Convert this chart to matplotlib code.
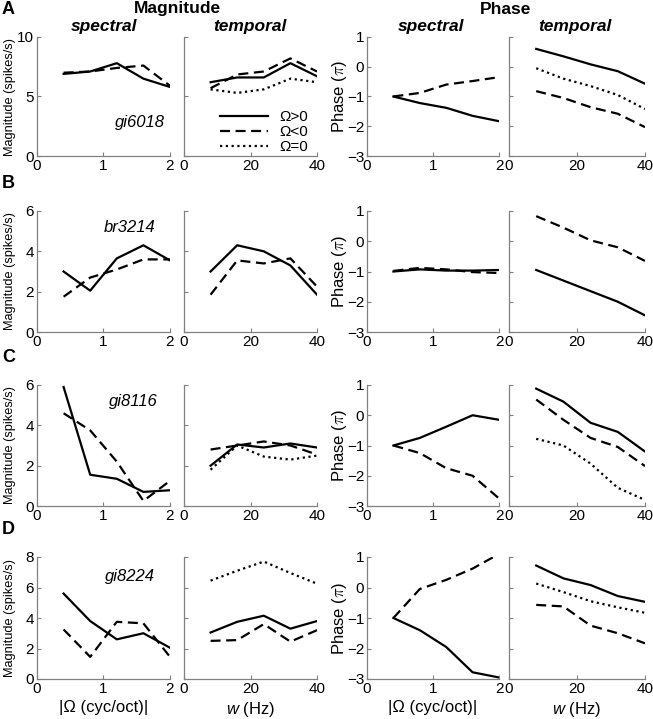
import matplotlib
matplotlib.use("Agg")
import matplotlib.pyplot as plt
import numpy as np

plt.rcParams['font.family'] = ['Liberation Sans', 'DejaVu Sans']
plt.rcParams['mathtext.fontset'] = 'custom'
plt.rcParams['mathtext.rm'] = 'Liberation Sans'
plt.rcParams['mathtext.it'] = 'Liberation Sans:italic'

W, H = 653, 719

omega = [0.4, 0.8, 1.2, 1.6, 2.0]
freq = [8, 16, 24, 32, 40]

cells = ["gi6018", "br3214", "gi8116", "gi8224"]
letters = ["A", "B", "C", "D"]

# magnitude spectral: (pos, neg)
mag_spec_pos = [[6.9, 7.1, 7.8, 6.5, 5.8],
                [3.0, 2.05, 3.65, 4.3, 3.55],
                [5.9, 1.55, 1.35, 0.7, 0.78],
                [5.6, 3.8, 2.6, 3.0, 2.05]]
mag_spec_neg = [[7.0, 7.1, 7.4, 7.6, 5.9],
                [1.75, 2.7, 3.1, 3.6, 3.6],
                [4.6, 3.75, 2.2, 0.25, 1.25],
                [3.25, 1.45, 3.75, 3.65, 1.45]]
# magnitude temporal: (pos, neg, zero)
mag_temp_pos = [[6.2, 6.6, 6.6, 7.8, 6.7],
                [3.0, 4.3, 4.0, 3.3, 1.85],
                [2.0, 3.05, 2.9, 3.1, 2.9],
                [3.05, 3.75, 4.15, 3.3, 3.8]]
mag_temp_neg = [[5.7, 6.85, 7.1, 8.2, 7.1],
                [1.85, 3.55, 3.4, 3.65, 2.25],
                [2.8, 3.0, 3.2, 3.0, 2.55],
                [2.5, 2.55, 3.6, 2.45, 3.2]]
mag_temp_zero = [[5.6, 5.3, 5.6, 6.5, 6.2],
                 None,
                 [1.8, 3.0, 2.45, 2.3, 2.5],
                 [6.45, 7.1, 7.7, 6.95, 6.25]]
# phase spectral
ph_spec_pos = [[-1.0, -1.22, -1.38, -1.65, -1.83],
               [-1.0, -0.93, -0.97, -0.97, -0.95],
               [-1.0, -0.75, -0.38, 0.0, -0.15],
               [-1.0, -1.4, -1.95, -2.78, -2.95]]
ph_spec_neg = [[-1.0, -0.88, -0.6, -0.48, -0.35],
               [-0.98, -0.88, -0.93, -1.02, -1.05],
               [-1.0, -1.25, -1.75, -2.0, -2.75],
               [-1.0, -0.05, 0.25, 0.62, 1.1]]
# phase temporal
ph_temp_pos = [[0.6, 0.35, 0.08, -0.15, -0.57],
               [-0.95, -1.3, -1.65, -2.0, -2.45],
               [0.88, 0.45, -0.25, -0.55, -1.2],
               [0.72, 0.3, 0.08, -0.28, -0.47]]
ph_temp_neg = [[-0.82, -1.05, -1.36, -1.58, -2.03],
               [0.83, 0.45, 0.03, -0.2, -0.65],
               [0.52, -0.15, -0.75, -1.05, -1.68],
               [-0.57, -0.62, -1.25, -1.5, -1.83]]
ph_temp_zero = [[-0.05, -0.4, -0.65, -0.95, -1.42],
                None,
                [-0.78, -1.0, -1.6, -2.4, -2.8],
                [0.13, -0.15, -0.45, -0.65, -0.83]]

mag_ylims = [10, 6, 6, 8]
mag_yticks = [[0, 5, 10], [0, 2, 4, 6], [0, 2, 4, 6], [0, 2, 4, 6, 8]]
cell_pos = [(1.55, 2.8), (1.4, 5.2), (1.45, 5.2), (1.4, 6.7)]

fig = plt.figure(figsize=(W / 100, H / 100), dpi=100)

col_x = [(37, 170), (184, 317), (367, 499), (509, 645)]
row_y = [(37, 156), (211, 332), (385, 506), (557, 679)]

SPINE = '#808080'
LW = 1.6
styles = {'pos': dict(color='black', lw=LW, ls='-'),
          'neg': dict(color='black', lw=LW, ls=(0, (4.5, 2.5))),
          'zero': dict(color='black', lw=LW, ls=(0, (1, 1.6)))}


def make_ax(r, c):
    x0, x1 = col_x[c]
    y0, y1 = row_y[r]
    ax = fig.add_axes([x0 / W, 1 - y1 / H, (x1 - x0) / W, (y1 - y0) / H])
    for s in ['top', 'right']:
        ax.spines[s].set_visible(False)
    for s in ['left', 'bottom']:
        ax.spines[s].set_color(SPINE)
        ax.spines[s].set_linewidth(0.9)
    ax.tick_params(direction='in', length=3, width=0.8, color=SPINE,
                   labelsize=11, pad=2, labelcolor='black')
    ax.patch.set_visible(False)
    return ax


for r in range(4):
    # magnitude spectral
    ax = make_ax(r, 0)
    ax.plot(omega, mag_spec_pos[r], **styles['pos'])
    ax.plot(omega, mag_spec_neg[r], **styles['neg'])
    ax.set_xlim(0, 2)
    ax.set_ylim(0, mag_ylims[r])
    ax.set_xticks([0, 1, 2])
    ax.set_yticks(mag_yticks[r])
    ax.set_ylabel('Magnitude (spikes/s)', fontsize=9.2)
    ax.yaxis.set_label_coords(-0.155, 0.5)
    ax.text(cell_pos[r][0], cell_pos[r][1], cells[r], style='italic',
            fontsize=12, ha='center', va='center')
    if r == 3:
        ax.set_xlabel('|Ω (cyc/oct)|', fontsize=12, labelpad=3)

    # magnitude temporal
    ax = make_ax(r, 1)
    h1, = ax.plot(freq, mag_temp_pos[r], **styles['pos'])
    h2, = ax.plot(freq, mag_temp_neg[r], **styles['neg'])
    h3 = None
    if mag_temp_zero[r] is not None:
        h3, = ax.plot(freq, mag_temp_zero[r], **styles['zero'])
    ax.set_xlim(0, 40)
    ax.set_ylim(0, mag_ylims[r])
    ax.set_xticks([0, 20, 40])
    ax.set_yticks(mag_yticks[r])
    ax.set_yticklabels([])
    if r == 0:
        ax.legend([h1, h2, h3], ['Ω>0', 'Ω<0', 'Ω=0'], frameon=False,
                  fontsize=11, loc='lower right', bbox_to_anchor=(1.0, -0.06),
                  handlelength=3.2, handletextpad=0.7, labelspacing=0.05,
                  borderaxespad=0.2)
    if r == 3:
        ax.set_xlabel('$\\mathit{w}$ (Hz)', fontsize=12, labelpad=3)

    # phase spectral
    ax = make_ax(r, 2)
    ax.plot(omega, ph_spec_pos[r], **styles['pos'])
    ax.plot(omega, ph_spec_neg[r], **styles['neg'])
    ax.set_xlim(0, 2)
    ax.set_ylim(-3, 1)
    ax.set_xticks([0, 1, 2])
    ax.set_yticks([-3, -2, -1, 0, 1])
    lab = ax.set_ylabel('Phase ($\\pi$)', fontsize=12)
    lab.set_math_fontfamily('cm')
    ax.yaxis.set_label_coords(-0.14, 0.5)
    if r == 3:
        ax.set_xlabel('|Ω (cyc/oct)|', fontsize=12, labelpad=3)

    # phase temporal
    ax = make_ax(r, 3)
    ax.plot(freq, ph_temp_pos[r], **styles['pos'])
    ax.plot(freq, ph_temp_neg[r], **styles['neg'])
    if ph_temp_zero[r] is not None:
        ax.plot(freq, ph_temp_zero[r], **styles['zero'])
    ax.set_xlim(0, 40)
    ax.set_ylim(-3, 1)
    ax.set_xticks([0, 20, 40])
    ax.set_yticks([-3, -2, -1, 0, 1])
    ax.set_yticklabels([])
    if r == 3:
        ax.set_xlabel('$\\mathit{w}$ (Hz)', fontsize=12, labelpad=3)

    fig.text(2 / W, 1 - (row_y[r][0] - 28) / H, letters[r], fontsize=13,
             fontweight='bold', ha='left', va='center')

fig.text(177 / W, 1 - 9 / H, 'Magnitude', fontsize=12.5, fontweight='bold',
         ha='center', va='center')
fig.text(506 / W, 1 - 9 / H, 'Phase', fontsize=12.5, fontweight='bold',
         ha='center', va='center')
sub_x = [104, 250, 431, 575]
sub_t = ['spectral', 'temporal', 'spectral', 'temporal']
for xc, t in zip(sub_x, sub_t):
    fig.text(xc / W, 1 - 26 / H, t, fontsize=12.5, fontweight='bold',
             style='italic', ha='center', va='center')

fig.savefig('out.png', dpi=100)
